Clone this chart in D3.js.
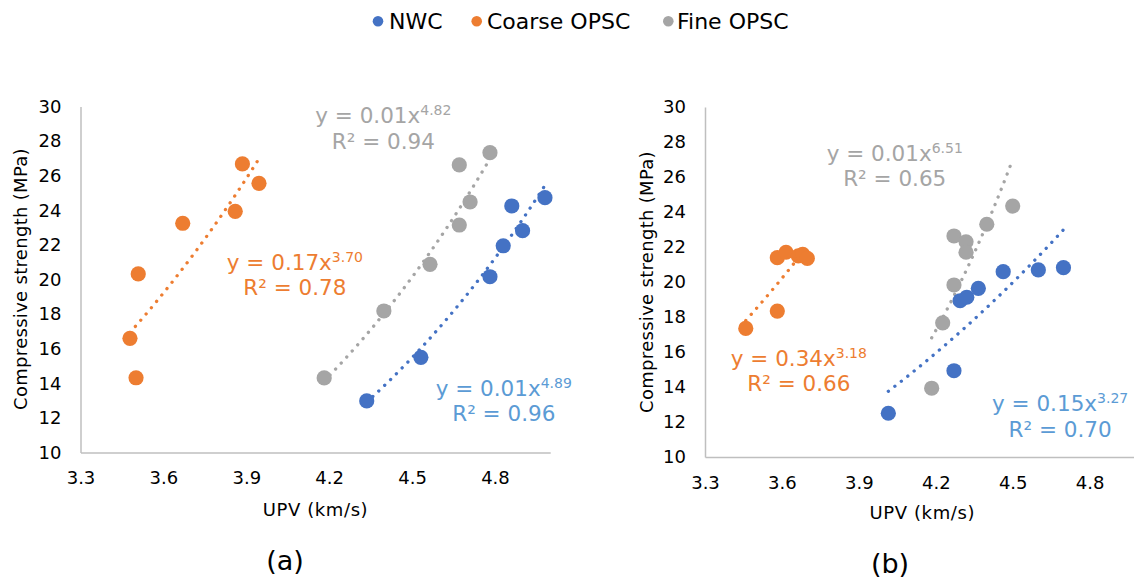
<!DOCTYPE html>
<html>
<head>
<meta charset="utf-8">
<script src="https://cdn.jsdelivr.net/npm/d3@7"></script>
<style>
  html, body { margin: 0; padding: 0; background: #fff; }
  svg { display: block; font-family: "DejaVu Sans", Verdana, sans-serif; }
</style>
</head>
<body>
<svg id="chart" width="1134" height="583"></svg>
<script>
// Series names and colours
const seriesNames = ["NWC", "Coarse OPSC", "Fine OPSC"];
const seriesColors = ["#4472C4", "#ED7D31", "#A5A5A5"];
const labelColors = ["#5B9BD5", "#ED7D31", "#A5A5A5"];

// Axis ticks
const xTicks = [3.3, 3.6, 3.9, 4.2, 4.5, 4.8];
const yTicks = [10, 12, 14, 16, 18, 20, 22, 24, 26, 28, 30];
const xDomain = [3.3, 5.0];
const yDomain = [10, 30];

// Panel (a): UPV (km/s) vs compressive strength (MPa)
const nwcA_upv = [4.336, 4.532, 4.782, 4.830, 4.900, 4.861, 4.981];
const nwcA_fc = [12.98, 15.50, 20.16, 21.95, 22.82, 24.25, 24.73];
const coarseA_upv = [3.479, 3.501, 3.509, 3.670, 3.860, 3.886, 3.946];
const coarseA_fc = [16.60, 14.32, 20.32, 23.25, 23.94, 26.68, 25.56];
const fineA_upv = [4.182, 4.398, 4.565, 4.671, 4.710, 4.671, 4.782];
const fineA_fc = [14.31, 18.18, 20.88, 23.15, 24.48, 26.62, 27.33];

// Panel (a) power trendlines y = a·x^b (NWC, Coarse, Fine)
const trendA_a = [0.0099, 0.168, 0.0143];
const trendA_b = [4.89, 3.70, 4.82];
const trendA_r2 = [0.96, 0.78, 0.94];
const trendA_coefText = ["0.01", "0.17", "0.01"];

// Panel (b)
const nwcB_upv = [4.015, 4.271, 4.295, 4.321, 4.366, 4.463, 4.600, 4.698];
const nwcB_fc = [12.50, 14.93, 18.93, 19.13, 19.64, 20.59, 20.69, 20.82];
const coarseB_upv = [3.459, 3.582, 3.582, 3.616, 3.664, 3.681, 3.699];
const coarseB_fc = [17.35, 18.34, 21.39, 21.70, 21.49, 21.58, 21.35];
const fineB_upv = [4.184, 4.227, 4.271, 4.271, 4.318, 4.318, 4.399, 4.500];
const fineB_fc = [13.93, 17.67, 19.83, 22.63, 22.30, 21.70, 23.30, 24.34];

const trendB_a = [0.146, 0.344, 0.00151];
const trendB_b = [3.27, 3.18, 6.51];
const trendB_r2 = [0.70, 0.66, 0.65];
const trendB_coefText = ["0.15", "0.34", "0.01"];

// Layout of the two panels (pixel ranges) and equation label anchors (data units)
const panelLayout = [
  {
    caption: "(a)",
    xRange: [80.5, 550.2], yRange: [452.5, 106.5],
    yTitle: { x: 27, y: 279 }, xTitle: { x: 315.5, y: 516 }, captionPos: { x: 285, y: 569.5 },
    eqAnchor: [[4.832, 11.82], [4.076, 19.08], [4.396, 27.55]]
  },
  {
    caption: "(b)",
    xRange: [705, 1140.9], yRange: [457, 107],
    yTitle: { x: 653, y: 282 }, xTitle: { x: 922.3, y: 519 }, captionPos: { x: 890, y: 573 },
    eqAnchor: [[4.685, 11.15], [3.666, 13.77], [4.040, 25.48]]
  }
];

const panelsData = [
  {
    series: [
      { x: nwcA_upv, y: nwcA_fc },
      { x: coarseA_upv, y: coarseA_fc },
      { x: fineA_upv, y: fineA_fc }
    ],
    trendA: trendA_a, trendB: trendA_b, r2: trendA_r2, coefText: trendA_coefText
  },
  {
    series: [
      { x: nwcB_upv, y: nwcB_fc },
      { x: coarseB_upv, y: coarseB_fc },
      { x: fineB_upv, y: fineB_fc }
    ],
    trendA: trendB_a, trendB: trendB_b, r2: trendB_r2, coefText: trendB_coefText
  }
];

const svg = d3.select("#chart");
const axisColor = "#BFBFBF";

panelsData.forEach((pd, pi) => {
  const lay = panelLayout[pi];
  const x = d3.scaleLinear().domain(xDomain).range(lay.xRange);
  const y = d3.scaleLinear().domain(yDomain).range(lay.yRange);
  const g = svg.append("g");

  // Axes: line only, no tick marks
  const xAxis = g.append("g")
    .attr("transform", `translate(0,${lay.yRange[0]})`)
    .call(d3.axisBottom(x).tickValues(xTicks).tickFormat(d3.format(".1f"))
      .tickSize(0).tickSizeOuter(0).tickPadding(19));
  const yAxis = g.append("g")
    .attr("transform", `translate(${lay.xRange[0]},0)`)
    .call(d3.axisLeft(y).tickValues(yTicks).tickFormat(d3.format("d"))
      .tickSize(0).tickSizeOuter(0).tickPadding(19));
  [xAxis, yAxis].forEach(a => {
    a.select(".domain").attr("stroke", axisColor).attr("stroke-width", 1.5);
    a.selectAll("text").attr("font-size", 18).attr("fill", "#000")
      .attr("font-family", "DejaVu Sans, Verdana, sans-serif");
  });

  // Axis titles
  g.append("text")
    .attr("transform", `translate(${lay.yTitle.x},${lay.yTitle.y}) rotate(-90)`)
    .attr("text-anchor", "middle").attr("font-size", 18).attr("letter-spacing", 0.3)
    .attr("fill", "#000").text("Compressive strength (MPa)");
  g.append("text")
    .attr("x", lay.xTitle.x).attr("y", lay.xTitle.y)
    .attr("text-anchor", "middle").attr("font-size", 18).attr("letter-spacing", 0.6)
    .attr("fill", "#000").text("UPV (km/s)");

  // Caption
  svg.append("text")
    .attr("x", lay.captionPos.x).attr("y", lay.captionPos.y)
    .attr("text-anchor", "middle").attr("font-size", 27).attr("fill", "#000")
    .text(lay.caption);

  // Power trendlines (round-dotted), drawn beneath the markers
  const line = d3.line().x(d => x(d[0])).y(d => y(d[1]));
  pd.series.forEach((s, si) => {
    const a = pd.trendA[si], b = pd.trendB[si];
    const [x0, x1] = d3.extent(s.x);
    const pts = d3.range(0, 61).map(i => {
      const xv = x0 + (x1 - x0) * i / 60;
      return [xv, a * Math.pow(xv, b)];
    });
    g.append("path")
      .attr("d", line(pts))
      .attr("fill", "none")
      .attr("stroke", seriesColors[si])
      .attr("stroke-width", 3.3)
      .attr("stroke-linecap", "round")
      .attr("stroke-dasharray", "0.1 8.1");
  });

  // Markers
  pd.series.forEach((s, si) => {
    g.append("g").selectAll("circle")
      .data(s.x.map((xv, i) => [xv, s.y[i]]))
      .join("circle")
      .attr("cx", d => x(d[0])).attr("cy", d => y(d[1]))
      .attr("r", 7.6)
      .attr("fill", seriesColors[si]);
  });

  // Trendline equations
  pd.series.forEach((s, si) => {
    const [ax, ay] = lay.eqAnchor[si];
    const cx = x(ax), by = y(ay);
    const t1 = g.append("text")
      .attr("x", cx).attr("y", by - 25.5)
      .attr("text-anchor", "middle").attr("font-size", 21.5)
      .attr("fill", labelColors[si]);
    t1.append("tspan").text(`y = ${pd.coefText[si]}x`);
    t1.append("tspan").attr("font-size", 14).attr("dy", -8)
      .text(pd.trendB[si].toFixed(2));
    g.append("text")
      .attr("x", cx).attr("y", by)
      .attr("text-anchor", "middle").attr("font-size", 21.5)
      .attr("fill", labelColors[si])
      .text(`R² = ${pd.r2[si].toFixed(2)}`);
  });
});

// Legend
const legendItems = [
  { dot: 378, text: 389 },
  { dot: 476.7, text: 487 },
  { dot: 668.3, text: 677 }
];
const legend = svg.append("g");
seriesNames.forEach((name, i) => {
  legend.append("circle")
    .attr("cx", legendItems[i].dot).attr("cy", 21.3).attr("r", 5.3)
    .attr("fill", seriesColors[i]);
  legend.append("text")
    .attr("x", legendItems[i].text).attr("y", 29.3)
    .attr("font-size", 22).attr("fill", "#000")
    .text(name);
});
</script>
</body>
</html>
